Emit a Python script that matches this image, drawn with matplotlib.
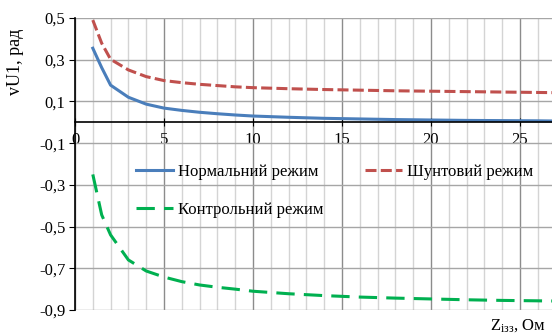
import numpy as np
import matplotlib
matplotlib.use('Agg')
import matplotlib.pyplot as plt
from matplotlib.ticker import MultipleLocator, FuncFormatter

plt.rcParams['font.family'] = ['Liberation Serif', 'DejaVu Serif']
plt.rcParams['mathtext.fontset'] = 'custom'
plt.rcParams['mathtext.rm'] = 'Liberation Serif'
plt.rcParams['mathtext.it'] = 'Liberation Serif:italic'

# дані
z = [1, 1.5, 2, 3, 4, 5, 6, 7, 8, 9, 10, 12, 14, 16, 18, 20, 22, 24, 26, 27]
normal = [0.355, 0.262, 0.178, 0.12, 0.087, 0.068, 0.057, 0.048, 0.041, 0.035, 0.03,
          0.024, 0.019, 0.016, 0.013, 0.011, 0.009, 0.008, 0.007, 0.006]
shunt = [0.49, 0.379, 0.302, 0.251, 0.219, 0.2, 0.19, 0.182, 0.176, 0.17, 0.166,
         0.161, 0.157, 0.154, 0.151, 0.149, 0.147, 0.145, 0.143, 0.142]
control = [-0.25, -0.444, -0.54, -0.66, -0.713, -0.742, -0.764, -0.78, -0.791, -0.8, -0.81,
           -0.822, -0.831, -0.838, -0.843, -0.847, -0.851, -0.854, -0.856, -0.857]

fig = plt.figure(figsize=(5.52, 3.36), dpi=100)
ax = fig.add_axes([75 / 552, 1 - 310 / 336, 1 - 75 / 552, 292 / 336])

ax.set_xlim(0, 26.8)
ax.set_ylim(-0.9, 0.5)

ax.xaxis.set_major_locator(MultipleLocator(5))
ax.xaxis.set_minor_locator(MultipleLocator(1))
ax.set_yticks(np.arange(-0.9, 0.51, 0.2))
ax.yaxis.set_major_formatter(FuncFormatter(lambda v, p: f'{v:.1f}'.replace('.', ',')))

# сітка
ax.grid(which='minor', axis='x', color='#d4d4d4', linewidth=1)
ax.grid(which='major', axis='x', color='#8c8c8c', linewidth=1)
ax.grid(which='major', axis='y', color='#a6a6a6', linewidth=1)
ax.set_axisbelow(True)

ax.spines['bottom'].set_position(('data', 0))
for s in ['top', 'right']:
    ax.spines[s].set_visible(False)
ax.spines['left'].set_linewidth(1.2)
ax.spines['bottom'].set_linewidth(1.2)
ax.tick_params(axis='x', which='major', direction='inout', length=6, labelsize=12, pad=4)
ax.tick_params(axis='x', which='minor', length=0)
ax.tick_params(axis='y', direction='out', length=4, labelsize=12, pad=3)

l1, = ax.plot(z, normal, color='#4a7ebb', linewidth=2.2, label='Нормальний режим')
l2, = ax.plot(z, shunt, color='#c0504d', linewidth=2.2, dashes=(3.6, 1.4), label='Шунтовий режим')
l3, = ax.plot(z, control, color='#00b050', linewidth=2.2, dashes=(6, 3), label='Контрольний режим')

ax.legend(handles=[l1, l3, l2], ncol=2, frameon=False, fontsize=12,
          loc='upper left', bbox_to_anchor=(136 / 552, 1 - 164 / 336),
          bbox_transform=fig.transFigure, handlelength=2.2, handletextpad=0.3,
          labelspacing=1.3, columnspacing=2.5, borderaxespad=0, borderpad=0)

fig.text(15 / 552, 1 - 62 / 336, 'vU1, рад', rotation=90, ha='center', va='center', fontsize=13)
fig.text(546 / 552, 1 - 326 / 336, r'$\mathrm{Z}_{\mathrm{ізз}}$, Ом', ha='right', va='center', fontsize=12)

plt.savefig('out.png', dpi=100)
